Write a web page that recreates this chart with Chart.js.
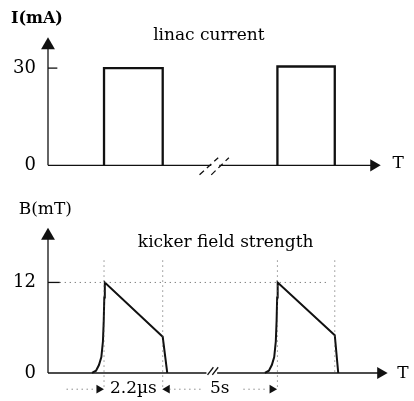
<!DOCTYPE html>
<html>
<head>
<meta charset="utf-8">
<title>linac current / kicker field strength</title>
<script src="https://cdn.jsdelivr.net/npm/chart.js@4.4.1/dist/chart.umd.min.js"></script>
<style>
  html, body { margin: 0; padding: 0; background: #fff; }
  #wrap { position: relative; width: 414px; height: 401px; }
  .panel { position: absolute; left: 0; width: 414px; }
  #topPanel { top: 0; height: 200px; }
  #botPanel { top: 200px; height: 201px; }
</style>
</head>
<body>
<div id="wrap">
  <div class="panel" id="topPanel"><canvas id="chartLinac"></canvas></div>
  <div class="panel" id="botPanel"><canvas id="chartKicker"></canvas></div>
</div>
<script>
// time in us-like units, the gap (null) is the 5 s break
var linacTime = [2.1, 2.1, 4.3, 4.3, 6.3, 8.6, 8.6, 10.75, 10.75];
var linacCurrent = [0, 30, 30, 0, null, 0, 30.5, 30.5, 0];
var linacTicks = [0, 30];

var kickerTime = [1.65, 1.8, 1.91, 2.0, 2.06, 2.09, 2.11, 2.13, 4.3, 4.47, 6.3,
                  8.13, 8.28, 8.39, 8.48, 8.54, 8.57, 8.59, 8.61, 10.75, 10.88];
var kickerField = [0, 0.3, 1.05, 2.1, 4.2, 7, 10, 12, 4.8, 0, null,
                   0, 0.3, 1.05, 2.1, 4.2, 7, 10, 12, 5, 0];
var kickerTicks = [0, 12];

// pulse edges used for the dotted guides and the time brackets
var pulseEdges = [2.1, 4.3, 8.6, 10.75];
var spanLabels = ["2.2\u00b5s", "5s"];

var SERIF = "'DejaVu Serif', 'Liberation Serif', serif";
var INK = "#111";
var DOTS = "#555";

function pts(xs, ys) {
  return xs.map(function (v, i) { return { x: v, y: ys[i] }; });
}

function seg(x0, y0, x1, y1, extra) {
  var ds = {
    type: "line",
    data: [{ x: x0, y: y0 }, { x: x1, y: y1 }],
    borderColor: INK,
    borderWidth: 1.3,
    pointRadius: 0,
    clip: false,
  };
  return Object.assign(ds, extra || {});
}

function dotted(x0, y0, x1, y1) {
  return seg(x0, y0, x1, y1, { borderColor: DOTS, borderWidth: 1, borderDash: [1, 4] });
}

function arrows(list, r) {
  return {
    type: "scatter",
    data: list.map(function (a) { return { x: a[0], y: a[1] }; }),
    pointStyle: "triangle",
    pointRadius: r,
    pointHoverRadius: r,
    pointRotation: list.map(function (a) { return a[2]; }),
    backgroundColor: INK,
    borderWidth: 0,
    clip: false,
  };
}

// draws the free text at data positions
var textLabels = {
  id: "textLabels",
  afterDraw: function (chart, args, opts) {
    var ctx = chart.ctx;
    var xs = chart.scales.x, ys = chart.scales.y;
    ctx.save();
    ctx.fillStyle = "#000";
    ctx.textBaseline = "alphabetic";
    opts.items.forEach(function (it) {
      ctx.font = it.font;
      ctx.textAlign = it.align || "left";
      ctx.fillText(it.text, xs.getPixelForValue(it.x), ys.getPixelForValue(it.y));
    });
    ctx.restore();
  },
};

function yAxis(min, max, ticks) {
  return {
    min: min,
    max: max,
    grid: { display: false, drawTicks: false },
    border: { display: false },
    afterBuildTicks: function (s) {
      s.ticks = ticks.map(function (v) { return { value: v }; });
    },
    afterFit: function (s) {
      s.width = 48;
      s.paddingTop = 0;
      s.paddingBottom = 0;
    },
    ticks: { padding: 12, color: "#000", font: { family: SERIF, size: 18 } },
  };
}

var xAxis = { type: "linear", display: false, min: 0, max: 13.42 };

var baseOptions = {
  responsive: true,
  maintainAspectRatio: false,
  animation: false,
  layout: { padding: { top: 30, bottom: 0, left: 0, right: 0 } },
  plugins: { legend: { display: false }, tooltip: { enabled: false } },
};

// ---- top: linac current
new Chart(document.getElementById("chartLinac"), {
  type: "line",
  data: {
    datasets: [
      seg(0, 0, 0, 37.06),
      seg(0, 0, 6.12, 0),
      seg(6.42, 0, 12.21, 0),
      seg(0, 30, 0.35, 30),
      seg(5.68, -2.94, 6.38, 2.35, { borderDash: [6, 4] }),
      seg(6.12, -2.94, 6.78, 2.35, { borderDash: [6, 4] }),
      {
        type: "line",
        data: pts(linacTime, linacCurrent),
        borderColor: INK,
        borderWidth: 2.3,
        pointRadius: 0,
        spanGaps: false,
      },
      arrows([[0, 37.06, 0]], 8),
      arrows([[12.21, 0, 90]], 7),
    ],
  },
  options: Object.assign({}, baseOptions, {
    scales: { x: xAxis, y: yAxis(-8.235, 41.76, linacTicks) },
    plugins: Object.assign({}, baseOptions.plugins, {
      textLabels: {
        items: [
          { text: "I(mA)", x: -1.39, y: 43.8, font: "bold 16px " + SERIF },
          { text: "linac current", x: 6.03, y: 38.8, align: "center", font: "17px " + SERIF },
          { text: "T", x: 12.91, y: -0.9, font: "17px " + SERIF },
        ],
      },
    }),
  }),
  plugins: [textLabels],
});

// ---- bottom: kicker field strength
var kickerSets = [
  seg(0, 0, 0, 18.19),
  seg(0, 0, 5.94, 0),
  seg(6.34, 0, 12.47, 0),
  seg(0, 12, 0.44, 12),
  seg(5.98, -0.25, 6.2, 0.76),
  seg(6.16, -0.25, 6.38, 0.76),
  dotted(0.44, 12, 10.49, 12),
  dotted(pulseEdges[0], 14.9, pulseEdges[0], -2.3),
  dotted(pulseEdges[1], 14.9, pulseEdges[1], -2.3),
  dotted(pulseEdges[2], 14.9, pulseEdges[2], -2.3),
  dotted(pulseEdges[3], 14.9, pulseEdges[3], 0),
  dotted(0.7, -2.15, 1.8, -2.15),
  dotted(4.55, -2.15, 5.76, -2.15),
  dotted(7.33, -2.15, 8.2, -2.15),
  {
    type: "line",
    data: pts(kickerTime, kickerField),
    borderColor: INK,
    borderWidth: 2,
    pointRadius: 0,
    spanGaps: false,
  },
  arrows([[0, 18.19, 0]], 8),
  arrows([[12.47, 0, 90]], 7),
  arrows([[1.91, -2.15, 90], [4.47, -2.15, -90], [8.4, -2.15, 90]], 5),
];

new Chart(document.getElementById("chartKicker"), {
  type: "line",
  data: { datasets: kickerSets },
  options: Object.assign({}, baseOptions, {
    scales: { x: xAxis, y: yAxis(-2.653, 18.95, kickerTicks) },
    plugins: Object.assign({}, baseOptions.plugins, {
      textLabels: {
        items: [
          { text: "B(mT)", x: -1.1, y: 21.1, font: "17px " + SERIF },
          { text: "kicker field strength", x: 6.66, y: 16.67, align: "center", font: "17px " + SERIF },
          { text: "T", x: 13.09, y: -0.63, font: "17px " + SERIF },
          { text: spanLabels[0], x: (pulseEdges[0] + pulseEdges[1]) / 2, y: -2.65, align: "center", font: "17px " + SERIF },
          { text: spanLabels[1], x: 6.44, y: -2.65, align: "center", font: "17px " + SERIF },
        ],
      },
    }),
  }),
  plugins: [textLabels],
});
</script>
</body>
</html>
